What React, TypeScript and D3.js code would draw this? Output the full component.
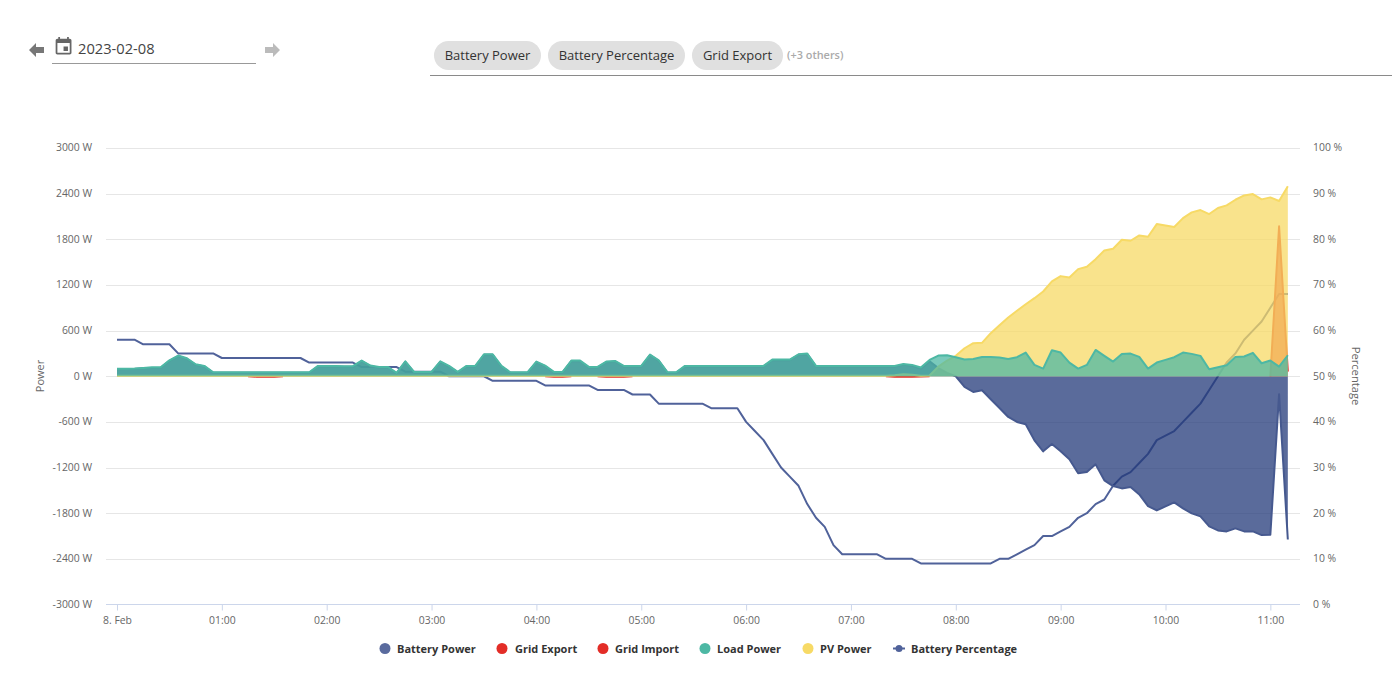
import React, {useEffect, useRef} from "react";
import * as d3 from "d3";

// one reading every 5 minutes, from 00:00 on 2023-02-08
const startTime = new Date(2023, 1, 8, 0, 0).getTime();
const stepMs = 5 * 60 * 1000;

const batteryPower = [
    92, 94, 94, 104, 110, 112, 202, 264, 230, 150,
    128, 47, 47, 46, 47, 46, 47, 47, 46, 47,
    47, 47, 46, 128, 128, 128, 124, 124, 198, 132,
    115, 115, 38, 189, 50, 50, 50, 189, 128, 50,
    128, 128, 281, 281, 128, 47, 47, 47, 185, 132,
    50, 50, 198, 198, 115, 115, 185, 194, 128, 128,
    128, 277, 202, 47, 47, 128, 128, 128, 128, 128,
    128, 128, 128, 128, 128, 211, 211, 211, 281, 290,
    128, 128, 128, 128, 128, 128, 128, 128, 128, 124,
    150, 138, 100, 195, 108, 45, 0, -141, -207, -184,
    -303, -417, -535, -601, -632, -842, -987, -891, -987, -1092,
    -1276, -1259, -1158, -1368, -1443, -1474, -1457, -1553, -1707, -1763,
    -1711, -1658, -1737, -1803, -1842, -1974, -2026, -2039, -2000, -2039,
    -2039, -2088, -2083, -237, -2145,
];

const gridExport = [
    0, 0, 0, 0, 0, 0, 0, 0, 0, 0,
    0, 0, 0, 0, 0, 0, -6, -8, -6, 0,
    0, 0, 0, 0, 0, 0, 0, 0, 0, 0,
    0, 0, 0, 0, 0, 0, 0, 0, 0, 0,
    0, 0, 0, 0, 0, 0, 0, 0, 0, 0,
    -6, -6, 0, 0, 0, 0, -6, -8, -6, 0,
    0, 0, 0, 0, 0, 0, 0, 0, 0, 0,
    0, 0, 0, 0, 0, 0, 0, 0, 0, 0,
    0, 0, 0, 0, 0, 0, 0, 0, 0, -6,
    -8, -8, -4, 0, 0, 0, 0, 0, 0, 0,
    0, 0, 0, 0, 0, 0, 0, 0, 0, 0,
    0, 0, 0, 0, 0, 0, 0, 0, 0, 0,
    0, 0, 0, 0, 0, 0, 0, 0, 0, 0,
    0, 0, 0, 0, 0,
];

const gridImport = [
    0, 0, 0, 0, 0, 0, 0, 0, 0, 0,
    0, 0, 0, 0, 0, 0, 0, 0, 0, 0,
    0, 0, 0, 0, 0, 0, 0, 0, 0, 0,
    0, 0, 0, 0, 0, 0, 0, 0, 0, 0,
    0, 0, 0, 0, 0, 0, 0, 0, 0, 0,
    0, 0, 0, 0, 0, 0, 0, 0, 0, 0,
    0, 0, 0, 0, 0, 0, 0, 0, 0, 0,
    0, 0, 0, 0, 0, 0, 0, 0, 0, 0,
    0, 0, 0, 0, 0, 0, 0, 0, 0, 0,
    0, 0, 0, 0, 0, 0, 0, 0, 0, 0,
    0, 0, 0, 0, 0, 0, 0, 0, 0, 0,
    0, 0, 0, 0, 0, 0, 0, 0, 0, 0,
    0, 0, 0, 0, 0, 0, 0, 0, 0, 0,
    0, 0, 0, 1970, 60,
];

const loadPower = [
    100, 100, 102, 110, 118, 118, 210, 272, 237, 158,
    136, 53, 53, 52, 53, 52, 53, 53, 52, 53,
    53, 53, 53, 136, 136, 136, 132, 132, 206, 140,
    123, 123, 44, 197, 57, 57, 57, 197, 136, 57,
    136, 136, 289, 289, 136, 53, 53, 53, 193, 140,
    57, 57, 206, 206, 123, 123, 193, 202, 136, 136,
    136, 285, 210, 53, 53, 136, 136, 136, 136, 136,
    136, 136, 136, 136, 136, 219, 219, 219, 289, 298,
    136, 136, 136, 136, 136, 136, 136, 136, 136, 136,
    162, 149, 114, 215, 272, 276, 250, 219, 228, 254,
    254, 246, 228, 250, 311, 149, 101, 342, 311, 180,
    101, 149, 346, 268, 193, 294, 298, 254, 101, 180,
    215, 250, 311, 294, 268, 92, 118, 145, 254, 259,
    307, 171, 206, 127, 276,
];

const pvPower = [
    5, 5, 5, 5, 5, 5, 5, 5, 5, 5,
    5, 5, 5, 5, 5, 5, 5, 5, 5, 5,
    5, 5, 5, 5, 5, 5, 5, 5, 5, 5,
    5, 5, 5, 5, 5, 5, 5, 5, 5, 5,
    5, 5, 5, 5, 5, 5, 5, 5, 5, 5,
    5, 5, 5, 5, 5, 5, 5, 5, 5, 5,
    5, 5, 5, 5, 5, 5, 5, 5, 5, 5,
    5, 5, 5, 5, 5, 5, 5, 5, 5, 5,
    5, 5, 5, 5, 5, 5, 5, 5, 6, 12,
    25, 20, 8, 9, 127, 206, 268, 368, 434, 439,
    566, 671, 772, 860, 947, 1026, 1114, 1246, 1316, 1298,
    1408, 1439, 1539, 1654, 1675, 1794, 1781, 1851, 1833, 2000,
    1982, 1961, 2079, 2154, 2184, 2132, 2211, 2246, 2320, 2377,
    2395, 2325, 2351, 2303, 2496,
];

const batteryPercentage = [
    58, 58, 58, 57, 57, 57, 57, 55, 55, 55,
    55, 55, 54, 54, 54, 54, 54, 54, 54, 54,
    54, 54, 53, 53, 53, 53, 53, 53, 52, 52,
    52, 52, 52, 51, 51, 51, 51, 51, 50, 50,
    50, 50, 50, 49, 49, 49, 49, 49, 49, 48,
    48, 48, 48, 48, 48, 47, 47, 47, 47, 46,
    46, 46, 44, 44, 44, 44, 44, 44, 43, 43,
    43, 43, 40, 38, 36, 33, 30, 28, 26, 22,
    19, 17, 13, 11, 11, 11, 11, 11, 10, 10,
    10, 10, 9, 9, 9, 9, 9, 9, 9, 9,
    9, 10, 10, 11, 12, 13, 15, 15, 16, 17,
    19, 20, 22, 23, 26, 28, 29, 31, 33, 36,
    37, 38, 40, 42, 44, 47, 50, 53, 55, 58,
    60, 62, 65, 68, 68,
];

const powerTicks = [-3000, -2400, -1800, -1200, -600, 0, 600, 1200, 1800, 2400, 3000];
const percentTicks = [0, 10, 20, 30, 40, 50, 60, 70, 80, 90, 100];
const hourTicks = d3.range(12);

const chips = ["Battery Power", "Battery Percentage", "Grid Export"];

const font = "'Open Sans', sans-serif";

const App: React.FC = () => {
    const chartRef = useRef<SVGGElement | null>(null);

    useEffect(() => {
        if (!chartRef.current) return;
        const svg = d3.select(chartRef.current);
        svg.selectAll("*").remove();

        const left = 106;
        const right = 1300;
        const top = 148;
        const bottom = 604.5;
        const pxPerHour = 104.85;
        const firstX = 117;

        // 00:00 sits 11px inside the plot, the last reading near the right edge
        const x = d3
            .scaleTime()
            .domain([
                startTime + ((left - firstX) / pxPerHour) * 3600 * 1000,
                startTime + ((right - firstX) / pxPerHour) * 3600 * 1000,
            ])
            .range([left, right]);

        const yPower = d3.scaleLinear().domain([-3000, 3000]).range([bottom, top]);
        const yPercent = d3.scaleLinear().domain([0, 100]).range([bottom, top]);

        const time = (_: number, i: number) => x(startTime + i * stepMs);

        // horizontal grid
        svg.append("g")
            .selectAll("line")
            .data(powerTicks.filter((t) => t !== -3000))
            .join("line")
            .attr("x1", left)
            .attr("x2", right)
            .attr("y1", (d) => Math.round(yPower(d)) + 0.5)
            .attr("y2", (d) => Math.round(yPower(d)) + 0.5)
            .attr("stroke", "#e6e6e6");

        // left and right axes
        const styleAxis = (g: d3.Selection<SVGGElement, unknown, null, undefined>) => {
            g.select(".domain").remove();
            g.selectAll(".tick line").remove();
            g.selectAll("text")
                .attr("y", -0.5)
                .attr("font-family", font)
                .attr("font-size", "10.4px")
                .attr("fill", "#666666");
        };

        svg.append("g")
            .attr("transform", `translate(${left},0)`)
            .call(d3.axisLeft(yPower).tickValues(powerTicks).tickSize(0).tickPadding(14).tickFormat((d) => `${d} W`))
            .call(styleAxis);

        svg.append("g")
            .attr("transform", `translate(${right},0)`)
            .call(d3.axisRight(yPercent).tickValues(percentTicks).tickSize(0).tickPadding(13).tickFormat((d) => `${d} %`))
            .call(styleAxis);

        // time axis
        const xAxis = svg.append("g")
            .attr("transform", `translate(0,${Math.round(bottom) - 0.5})`)
            .call(
                d3.axisBottom(x)
                    .tickValues(hourTicks.map((h) => new Date(startTime + h * 3600 * 1000)))
                    .tickSize(6)
                    .tickPadding(6)
                    .tickFormat((d, i) => (i === 0 ? "8. Feb" : d3.timeFormat("%H:%M")(d as Date)))
            );
        xAxis.select(".domain").attr("stroke", "#ccd6eb").attr("d", `M${left},0H${right}`);
        xAxis.selectAll(".tick line").attr("stroke", "#ccd6eb");
        xAxis.selectAll("text")
            .attr("font-family", font)
            .attr("font-size", "10.4px")
            .attr("fill", "#666666");

        // percentage sits under the areas
        const percentLine = d3.line<number>().x(time).y((d) => yPercent(d));
        svg.append("path")
            .attr("d", percentLine(batteryPercentage))
            .attr("fill", "none")
            .attr("stroke", "#50629a")
            .attr("stroke-width", 2)
            .attr("stroke-linejoin", "round");

        // load goes last, its line stays clean on top of the PV area
        const areas = [
            {values: batteryPower, fill: "#233a7a", stroke: "#46598f"},
            {values: gridExport, fill: "#e32d27", stroke: "#e32d27"},
            {values: gridImport, fill: "#e32d27", stroke: "#e32d27"},
            {values: pvPower, fill: "#f7da66", stroke: "#f7da66"},
            {values: loadPower, fill: "#4db8a4", stroke: "#4db8a4"},
        ];

        // flat stretches at exactly 0 W draw nothing, the grid series only show when they move
        const hasValue = (d: number, i: number, arr: number[]) =>
            d !== 0 || !!arr[i - 1] || !!arr[i + 1];

        const area = d3.area<number>()
            .defined((d, i, arr) => hasValue(d, i, arr as number[]))
            .x(time)
            .y0(yPower(0))
            .y1((d) => yPower(d));
        const line = d3.line<number>()
            .defined((d, i, arr) => hasValue(d, i, arr as number[]))
            .x(time)
            .y((d) => yPower(d));

        areas.forEach((s) => {
            svg.append("path")
                .attr("d", area(s.values))
                .attr("fill", s.fill)
                .attr("fill-opacity", 0.75);
            svg.append("path")
                .attr("d", line(s.values))
                .attr("fill", "none")
                .attr("stroke", s.stroke)
                .attr("stroke-width", 2)
                .attr("stroke-linejoin", "round");
        });
    }, []);

    const legend = [
        {name: "Battery Power", cx: 385, tx: 397, color: "#5a6b9e"},
        {name: "Grid Export", cx: 502, tx: 515, color: "#e32d27"},
        {name: "Grid Import", cx: 603, tx: 615, color: "#e32d27"},
        {name: "Load Power", cx: 705, tx: 717, color: "#4db8a4"},
        {name: "PV Power", cx: 808, tx: 820, color: "#f7da66"},
    ];

    const chipBoxes = [
        {x: 434, w: 107},
        {x: 548, w: 137},
        {x: 692, w: 91},
    ];

    return (
        <svg
            width={1392}
            height={696}
            style={{position: "absolute", left: 0, top: 0, fontFamily: font, opacity: 0.999}}
        >
            <rect width={1392} height={696} fill="#ffffff"/>
            <g ref={chartRef}/>

            {/* date picker */}
            <path d="M29 50l7-7v4h8v6h-8v4z" fill="#777777"/>
            <path d="M280 50l-7-7v4h-8v6h8v4z" fill="#bbbbbb"/>
            <g transform="translate(53,36) scale(0.88)">
                <path
                    d="M17 12h-5v5h5v-5zM16 1v2H8V1H6v2H5c-1.11 0-1.99.9-1.99 2L3 19c0 1.1.89 2 2 2h14c1.1 0 2-.9 2-2V5c0-1.1-.9-2-2-2h-1V1h-2zm3 18H5V8h14v11z"
                    fill="#666666"
                />
            </g>
            <text x={78} y={54} fontSize={14.7} fill="#444444">2023-02-08</text>
            <line x1={52} x2={256} y1={63.5} y2={63.5} stroke="#999999"/>

            {/* selected series */}
            {chips.map((c, i) => (
                <g key={c}>
                    <rect x={chipBoxes[i].x} y={41} width={chipBoxes[i].w} height={29} rx={14.5} fill="#e0e0e0"/>
                    <text x={chipBoxes[i].x + chipBoxes[i].w / 2} y={60} fontSize={13} fill="#333333" textAnchor="middle">{c}</text>
                </g>
            ))}
            <text x={787} y={59} fontSize={10.9} fontWeight={600} fill="#aaaaaa">(+3 others)</text>
            <line x1={430} x2={1392} y1={75.5} y2={75.5} stroke="#8a8a8a"/>

            {/* axis titles */}
            <text transform="translate(44,376) rotate(-90)" fontSize={11} fill="#666666" textAnchor="middle">Power</text>
            <text transform="translate(1352,376) rotate(90)" fontSize={11.2} fill="#666666" textAnchor="middle">Percentage</text>

            {/* legend */}
            {legend.map((l) => (
                <g key={l.name}>
                    <circle cx={l.cx} cy={648.5} r={5.5} fill={l.color}/>
                    <text x={l.tx} y={653} fontSize={11} fontWeight={700} fill="#333333">{l.name}</text>
                </g>
            ))}
            <line x1={893} x2={905} y1={648.5} y2={648.5} stroke="#50629a" strokeWidth={2}/>
            <circle cx={899} cy={648.5} r={3.5} fill="#50629a"/>
            <text x={911} y={653} fontSize={11} fontWeight={700} fill="#333333">Battery Percentage</text>
        </svg>
    );
};

export default App;
